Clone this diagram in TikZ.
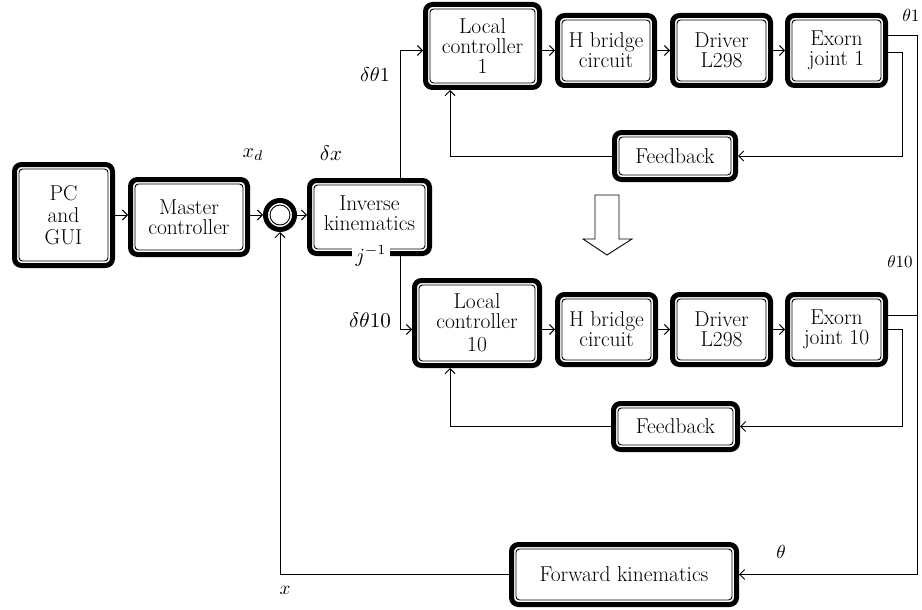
\documentclass[tikz,border=0pt]{standalone}
\usetikzlibrary{arrows.meta,calc}
\begin{document}
\begin{tikzpicture}[x=1pt,y=-1pt,
  blk/.style={draw, line width=5pt, rounded corners=7pt, fill=white,
    align=center, inner sep=0pt, font=\fontsize{21.5}{20}\selectfont},
  innerline/.style={draw, line width=0.9pt, rounded corners=3.5pt},
  wire/.style={line width=0.9pt},
  arr/.style={wire, -{Straight Barb[length=5pt,width=10pt]}},
  lbl/.style={inner sep=0.5pt}]
\useasboundingbox (0,0) rectangle (922,610);

% main blocks
\node[blk, minimum width=98pt, minimum height=101pt] (pc) at (63.5,215) {PC\\[2pt]and\\[2pt]GUI};
\node[blk, minimum width=117pt, minimum height=75pt] (mc) at (189,217) {Master\\controller};
\node[draw, circle, line width=5pt, minimum size=29pt, inner sep=0pt, fill=white] (sum) at (280,215) {};
\node[blk, minimum width=120pt, minimum height=73pt, text depth=8pt] (ik) at (369.5,217) {Inverse\\kinematics};

% joint 1 chain
\node[blk, minimum width=114pt, minimum height=83pt] (lc1) at (482.5,46) {Local\\controller\\1};
\node[blk, minimum width=97pt, minimum height=70pt] (hb1) at (606,50.5) {H bridge\\circuit};
\node[blk, minimum width=98pt, minimum height=70pt] (dr1) at (721.5,50.5) {Driver\\L298};
\node[blk, minimum width=98pt, minimum height=70pt] (ej1) at (836.5,50.5) {Exorn\\joint 1};
\node[blk, minimum width=121pt, minimum height=47pt] (fb1) at (675,156) {Feedback};

% joint 10 chain
\node[blk, minimum width=125pt, minimum height=85pt] (lc10) at (477,323) {Local\\controller\\[3pt]10};
\node[blk, minimum width=98pt, minimum height=70pt] (hb10) at (606.5,329.5) {H bridge\\circuit};
\node[blk, minimum width=98pt, minimum height=70pt] (dr10) at (721.5,329.5) {Driver\\L298};
\node[blk, minimum width=98pt, minimum height=70pt] (ej10) at (836.5,329.5) {Exorn\\joint 10};
\node[blk, minimum width=124pt, minimum height=46pt] (fb2) at (675.5,426.5) {Feedback};

\node[blk, minimum width=225pt, minimum height=60pt] (fk) at (624,574.5) {Forward kinematics};

% inner outlines of the double-framed blocks (anchors sit on the outer edge of the frame)
\foreach \n in {pc,mc,ik,lc1,hb1,dr1,ej1,fb1,lc10,hb10,dr10,ej10,fb2,fk}
  \draw[innerline] ([shift={(7pt,7pt)}]\n.south west) rectangle ([shift={(-7pt,-7pt)}]\n.north east);
\draw[wire] (sum) circle (10pt);

% label sitting on the lower frame of the inverse kinematics block
\node[fill=white, inner sep=1pt, minimum width=19pt, minimum height=9pt, scale=2] (jinv) at (371,256) {$j^{-1}$};

% bus coordinates on the right
\coordinate (busx) at (917,0);
\coordinate (fbx) at (902,0);

% forward path
\draw[arr] (pc.east) -- (pc.east -| mc.west);
\draw[arr] (sum -| mc.east) -- (sum.west);
\draw[arr] (sum.east) -- (sum -| ik.west);
\draw[arr] ([xshift=31pt]ik.north) |- (lc1.west |- hb1.west);
\draw[arr] ([xshift=31pt]ik.south) |- (lc10.west |- hb10.west);

\draw[arr] (lc1.east |- hb1.west) -- (hb1.west);
\draw[arr] (hb1.east) -- (dr1.west);
\draw[arr] (dr1.east) -- (ej1.west);
\draw[arr] (lc10.east |- hb10.west) -- (hb10.west);
\draw[arr] (hb10.east) -- (dr10.west);
\draw[arr] (dr10.east) -- (ej10.west);

% joint outputs
\draw[arr] ([yshift=15.5pt]ej1.east) -| (busx |- fk.east) -- (fk.east);
\draw[wire] ([yshift=14.5pt]ej10.east) -- ([yshift=14.5pt]ej10.east -| busx);
\draw[arr] ([yshift=-1.5pt]ej1.east) -| (fbx |- fb1.east) -- (fb1.east);
\draw[arr] (ej10.east) -| (fbx |- fb2.east) -- (fb2.east);

% local feedback loops
\draw[arr] (fb1.west) -| ([xshift=-32.5pt]lc1.south);
\draw[arr] (fb2.west) -| ([xshift=-27pt]lc10.south);

% global feedback
\draw[arr] (fk.west) -| (sum.south);

% hollow block arrow between the two chains
\draw[wire, fill=white] (595,195) -- (619,195) -- (619,239) -- (632,239) -- (607,255) -- (583,239) -- (595,239) -- cycle;

% signal labels
\node[lbl, scale=2] (lxd) at (253,155) {$x_d$};
\node[lbl, scale=2.1] (ldx) at (331,153) {$\delta x$};
\node[lbl, scale=2] (ldt1) at (375,75) {$\delta\theta 1$};
\node[lbl, scale=2.1] (ldt10) at (370,320) {$\delta\theta 10$};
\node[lbl, scale=1.75] (lt1) at (911,15) {$\theta 1$};
\node[lbl, scale=1.7] (lt10) at (900,262) {$\theta 10$};
\node[lbl, scale=1.9] (lt) at (781,552) {$\theta$};
\node[lbl, scale=1.9] (lx) at (285,590) {$x$};
\end{tikzpicture}
\end{document}
